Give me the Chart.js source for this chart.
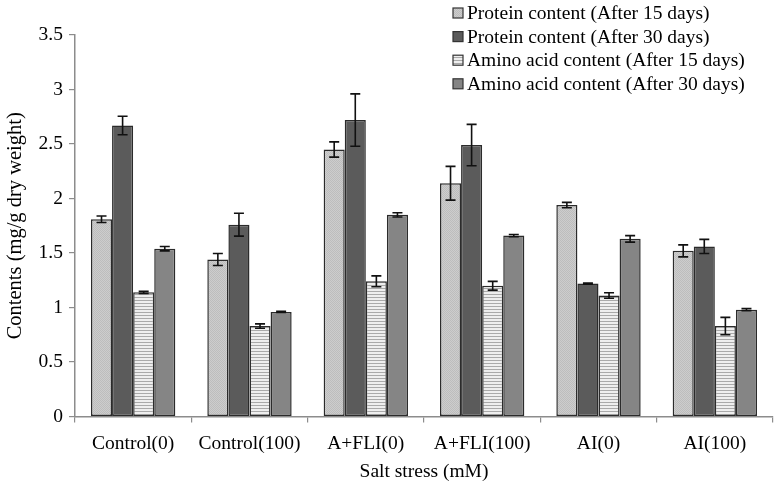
<!DOCTYPE html>
<html>
<head>
<meta charset="utf-8">
<script src="https://cdn.jsdelivr.net/npm/chart.js"></script>
<style>
  html, body { margin: 0; padding: 0; background: #fff; }
  #wrap { width: 774px; height: 487px; position: relative; }
</style>
</head>
<body>
<div id="wrap"><canvas id="chart"></canvas></div>
<script>
const categories = ['Control(0)', 'Control(100)', 'A+FLI(0)', 'A+FLI(100)', 'AI(0)', 'AI(100)']
const seriesNames = [
  'Protein content (After 15 days)',
  'Protein content (After 30 days)',
  'Amino acid content (After 15 days)',
  'Amino acid content (After 30 days)'
]
const protein15 = [1.81, 1.44, 2.45, 2.14, 1.94, 1.52]
const protein30 = [2.67, 1.76, 2.72, 2.49, 1.22, 1.56]
const amino15 = [1.14, 0.83, 1.24, 1.20, 1.11, 0.83]
const amino30 = [1.54, 0.96, 1.85, 1.66, 1.63, 0.98]
const protein15Err = [0.03, 0.055, 0.07, 0.155, 0.025, 0.055]
const protein30Err = [0.085, 0.105, 0.24, 0.19, 0.005, 0.065]
const amino15Err = [0.01, 0.02, 0.05, 0.04, 0.025, 0.08]
const amino30Err = [0.02, 0.005, 0.02, 0.01, 0.03, 0.01]

const serif = "'Liberation Serif', 'Times New Roman', serif"

function makePattern(w, h, draw) {
  const c = document.createElement('canvas')
  c.width = w
  c.height = h
  draw(c.getContext('2d'))
  return c.getContext('2d').createPattern(c, 'repeat')
}

// light dotted fill
const dotted = makePattern(2, 2, (g) => {
  g.fillStyle = '#cdcdcd'; g.fillRect(0, 0, 2, 2)
  g.fillStyle = '#bdbdbd'; g.fillRect(0, 0, 1, 1); g.fillRect(1, 1, 1, 1)
})
// horizontal stripes
const striped = makePattern(3, 3, (g) => {
  g.fillStyle = '#eeeeee'; g.fillRect(0, 0, 3, 3)
  g.fillStyle = '#a9a9a9'; g.fillRect(0, 0, 3, 1)
})

const errorBars = {
  id: 'errorBars',
  afterDatasetsDraw(chart) {
    const { ctx, scales: { y } } = chart
    ctx.save()
    ctx.strokeStyle = '#111'
    ctx.lineWidth = 1.6
    chart.data.datasets.forEach((ds, i) => {
      const meta = chart.getDatasetMeta(i)
      meta.data.forEach((bar, j) => {
        const v = ds.data[j], e = ds.errors[j]
        const top = y.getPixelForValue(v + e)
        const bot = y.getPixelForValue(v - e)
        ctx.beginPath()
        ctx.moveTo(bar.x, top); ctx.lineTo(bar.x, bot)
        ctx.moveTo(bar.x - 5, top); ctx.lineTo(bar.x + 5, top)
        ctx.moveTo(bar.x - 5, bot); ctx.lineTo(bar.x + 5, bot)
        ctx.stroke()
      })
    })
    ctx.restore()
  }
}

const boxLegend = {
  id: 'boxLegend',
  afterDraw(chart) {
    const { ctx } = chart
    ctx.save()
    ctx.font = '19.5px ' + serif
    ctx.textBaseline = 'middle'
    chart.data.datasets.forEach((ds, i) => {
      const cy = 13 + i * 23.6
      ctx.fillStyle = ds.backgroundColor
      ctx.fillRect(453, cy - 5, 10, 10)
      ctx.strokeStyle = '#333'
      ctx.lineWidth = 1.2
      ctx.strokeRect(453, cy - 5, 10, 10)
      ctx.fillStyle = '#000'
      ctx.fillText(ds.label, 467, cy + 1)
    })
    ctx.restore()
  }
}

const fills = [dotted, '#5b5b5b', striped, '#858585']
const values = [protein15, protein30, amino15, amino30]
const errs = [protein15Err, protein30Err, amino15Err, amino30Err]

const data = {
  labels: categories,
  datasets: seriesNames.map((name, i) => ({
    label: name,
    data: values[i],
    errors: errs[i],
    backgroundColor: fills[i],
    borderColor: '#2b2b2b',
    borderWidth: 1.5,
    borderSkipped: false,
    barPercentage: 1,
    categoryPercentage: 0.725
  }))
}

const options = {
  responsive: true,
  maintainAspectRatio: false,
  animation: false,
  layout: { padding: { top: 35, right: 1, left: 3, bottom: 10 } },
  plugins: {
    legend: { display: false },
    tooltip: { enabled: false }
  },
  scales: {
    x: {
      grid: { offset: true, drawOnChartArea: false, color: '#8c8c8c', tickLength: 6, lineWidth: 1.2 },
      border: { color: '#8c8c8c', width: 1.5 },
      ticks: { color: '#000', font: { family: serif, size: 19.5, lineHeight: 0.6 }, maxRotation: 0, padding: 15 },
      title: { display: true, text: 'Salt stress (mM)', color: '#000', font: { family: serif, size: 19.5, lineHeight: 0.5 }, padding: { top: 3, bottom: 0 } }
    },
    y: {
      min: 0,
      max: 3.5,
      ticks: { stepSize: 0.5, color: '#000', font: { family: serif, size: 19.5 }, padding: 6, callback: (v) => String(v) },
      grid: { drawOnChartArea: false, color: '#8c8c8c', tickLength: 6, lineWidth: 1.2 },
      border: { color: '#8c8c8c', width: 1.5 },
      title: { display: true, text: 'Contents (mg/g dry weight)', color: '#000', font: { family: serif, size: 20.5 }, padding: { top: 0, bottom: 5 } }
    }
  }
}

new Chart(document.getElementById('chart').getContext('2d'), {
  type: 'bar',
  data,
  options,
  plugins: [errorBars, boxLegend]
})
</script>
</body>
</html>
